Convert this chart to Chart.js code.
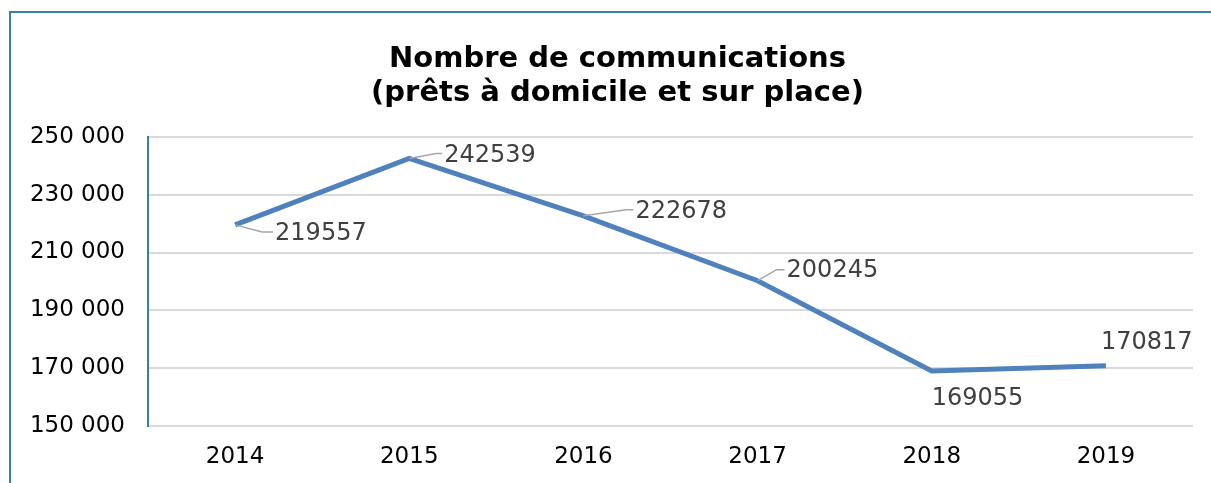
<!DOCTYPE html>
<html>
<head>
<meta charset="utf-8">
<script src="https://cdn.jsdelivr.net/npm/chart.js@4.4.0/dist/chart.umd.min.js"></script>
<style>
  body { margin: 0; background: #fff; }
  #wrap { width: 1211px; height: 483px; }
</style>
</head>
<body>
<div id="wrap"><canvas id="chart" width="1211" height="483"></canvas></div>
<script>
const years = ['2014', '2015', '2016', '2017', '2018', '2019'];
const communications = [219557, 242539, 222678, 200245, 169055, 170817];
const yTicks = [150000, 170000, 190000, 210000, 230000, 250000];

const fmt = v => String(v).replace(/\B(?=(\d{3})+(?!\d))/g, ' ');

// frame drawn behind the chart (left + top edges only are visible)
const framePlugin = {
    id: 'frame',
    afterLayout(chart) {
        // title is centred on the whole frame, not on the plot
        chart.titleBlock.left = 42;
    },
    beforeDraw(chart) {
        const ctx = chart.ctx;
        ctx.save();
        ctx.strokeStyle = '#31849b';
        ctx.lineWidth = 2;
        ctx.beginPath();
        ctx.moveTo(10, chart.height);
        ctx.lineTo(10, 12);
        ctx.lineTo(chart.width, 12);
        ctx.stroke();
        ctx.restore();
    }
};

// data labels with leader lines, offsets are [labelDx, labelDy, elbowDx, elbowDy]
const labelPlugin = {
    id: 'valueLabels',
    afterDatasetsDraw(chart, args, opts) {
        const ctx = chart.ctx;
        const meta = chart.getDatasetMeta(0);
        ctx.save();
        ctx.font = opts.font;
        ctx.fillStyle = opts.color;
        ctx.textAlign = 'left';
        ctx.textBaseline = 'middle';
        meta.data.forEach((pt, i) => {
            const [dx, dy, ex, ey] = opts.offsets[i];
            if (ex !== null) {
                ctx.strokeStyle = '#a6a6a6';
                ctx.lineWidth = 1.5;
                ctx.beginPath();
                ctx.moveTo(pt.x, pt.y);
                ctx.lineTo(pt.x + ex, pt.y + ey);
                ctx.lineTo(pt.x + dx - 2, pt.y + ey);
                ctx.stroke();
            }
            ctx.fillText(String(communications[i]), pt.x + dx, pt.y + dy);
        });
        ctx.restore();
    }
};

new Chart(document.getElementById('chart'), {
    type: 'line',
    data: {
        labels: years,
        datasets: [{
            data: communications,
            borderColor: '#4f81bd',
            borderWidth: 5,
            pointRadius: 0,
            tension: 0,
            fill: false,
        }]
    },
    options: {
        responsive: false,
        animation: false,
        layout: { padding: { left: 0, right: 18, top: 0, bottom: 0 } },
        plugins: {
            legend: { display: false },
            tooltip: { enabled: false },
            title: {
                display: true,
                text: ['Nombre de communications', '(prêts à domicile et sur place)'],
                color: '#000',
                font: { family: 'DejaVu Sans', size: 29, weight: 'bold', lineHeight: 1.17 },
                padding: { top: 43, bottom: 26 }
            },
            valueLabels: {
                font: '24px "DejaVu Sans"',
                color: '#404040',
                offsets: [
                    [40, 9, 27, 7],
                    [35, -3, 27, -5],
                    [52, -4, 43, -6],
                    [29, -10, 19, -11],
                    [0, 28, null, null],
                    [-5, -23, null, null]
                ]
            }
        },
        scales: {
            x: {
                offset: true,
                afterFit: axis => { axis.height = 57; },
                grid: { display: false, drawTicks: false },
                border: { display: false },
                ticks: { color: '#000', padding: 17, font: { family: 'DejaVu Sans', size: 23 } }
            },
            y: {
                min: 150000,
                max: 250000,
                afterFit: axis => { axis.width = 148; },
                afterBuildTicks: axis => { axis.ticks = yTicks.map(v => ({ value: v })); },
                grid: { color: '#d9d9d9', lineWidth: 2, drawTicks: false },
                border: { color: '#31849b', width: 2 },
                ticks: { color: '#000', padding: 23, font: { family: 'DejaVu Sans', size: 23 }, callback: v => fmt(v) }
            }
        }
    },
    plugins: [framePlugin, labelPlugin]
});
</script>
</body>
</html>
